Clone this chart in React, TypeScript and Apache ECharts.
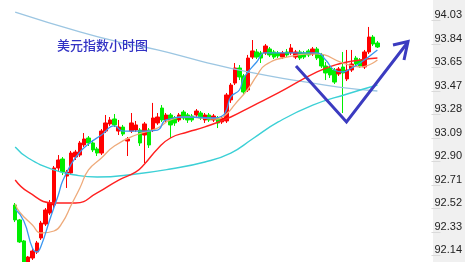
import React, { useEffect, useRef } from 'react';
import * as echarts from 'echarts';

const yLabels = ['92.14', '92.33', '92.52', '92.71', '92.90', '93.09', '93.28', '93.47', '93.65', '93.84', '94.03'];
const titleText = '美元指数小时图';

// [open, close, low, high]
const candles: number[][] = [
  [92.546, 92.426, 92.409, 92.562],
  [92.426, 92.249, 92.241, 92.434],
  [92.257, 92.088, 92.056, 92.265],
  [92.072, 92.128, 92.056, 92.136],
  [92.120, 92.176, 92.104, 92.192],
  [92.168, 92.241, 92.152, 92.257],
  [92.281, 92.401, 92.265, 92.418],
  [92.393, 92.506, 92.377, 92.522],
  [92.482, 92.562, 92.466, 92.586],
  [92.546, 92.844, 92.522, 92.860],
  [92.844, 92.908, 92.812, 92.948],
  [92.916, 92.812, 92.787, 92.932],
  [92.779, 92.812, 92.683, 92.828],
  [92.804, 92.964, 92.787, 92.981],
  [92.932, 92.972, 92.908, 92.989],
  [92.948, 93.045, 92.932, 93.061],
  [93.029, 93.077, 93.013, 93.125],
  [93.085, 93.045, 93.021, 93.101],
  [93.045, 92.989, 92.972, 93.069],
  [92.997, 92.964, 92.940, 93.013],
  [92.964, 93.141, 92.948, 93.157],
  [93.141, 93.206, 93.125, 93.270],
  [93.198, 93.230, 93.182, 93.254],
  [93.238, 93.190, 93.173, 93.278],
  [93.141, 93.173, 93.109, 93.230],
  [93.173, 93.117, 93.101, 93.190],
  [93.061, 93.077, 92.940, 93.093],
  [93.141, 93.206, 93.125, 93.286],
  [93.149, 93.190, 93.133, 93.222],
  [93.149, 93.045, 93.021, 93.165],
  [93.109, 93.198, 92.884, 93.214],
  [93.149, 93.029, 93.005, 93.165],
  [93.149, 93.246, 93.133, 93.367],
  [93.206, 93.254, 93.190, 93.286],
  [93.326, 93.230, 93.214, 93.350],
  [93.230, 93.270, 93.214, 93.286],
  [93.270, 93.190, 93.085, 93.286],
  [93.246, 93.206, 93.182, 93.262],
  [93.230, 93.270, 93.214, 93.286],
  [93.294, 93.246, 93.230, 93.310],
  [93.270, 93.230, 93.206, 93.286],
  [93.262, 93.230, 93.214, 93.278],
  [93.270, 93.302, 93.254, 93.318],
  [93.286, 93.246, 93.230, 93.302],
  [93.230, 93.270, 93.206, 93.286],
  [93.270, 93.230, 93.214, 93.286],
  [93.230, 93.262, 93.214, 93.278],
  [93.246, 93.206, 93.165, 93.262],
  [93.214, 93.246, 93.198, 93.262],
  [93.222, 93.431, 93.206, 93.447],
  [93.391, 93.511, 93.367, 93.527],
  [93.527, 93.648, 93.511, 93.688],
  [93.648, 93.576, 93.551, 93.672],
  [93.584, 93.455, 93.439, 93.600],
  [93.471, 93.728, 93.455, 93.753],
  [93.736, 93.785, 93.720, 93.873],
  [93.777, 93.736, 93.720, 93.801],
  [93.769, 93.728, 93.688, 93.785],
  [93.769, 93.825, 93.753, 93.841],
  [93.801, 93.753, 93.736, 93.817],
  [93.777, 93.736, 93.720, 93.793],
  [93.769, 93.745, 93.728, 93.785],
  [93.736, 93.769, 93.720, 93.785],
  [93.777, 93.753, 93.736, 93.801],
  [93.769, 93.809, 93.753, 93.841],
  [93.736, 93.777, 93.720, 93.793],
  [93.777, 93.728, 93.712, 93.793],
  [93.769, 93.736, 93.720, 93.785],
  [93.785, 93.753, 93.736, 93.801],
  [93.761, 93.801, 93.745, 93.817],
  [93.801, 93.728, 93.712, 93.817],
  [93.753, 93.664, 93.648, 93.769],
  [93.664, 93.608, 93.551, 93.696],
  [93.648, 93.592, 93.568, 93.664],
  [93.632, 93.535, 93.519, 93.648],
  [93.600, 93.640, 93.584, 93.656],
  [93.656, 93.608, 93.286, 93.777],
  [93.560, 93.632, 93.543, 93.793],
  [93.632, 93.680, 93.616, 93.793],
  [93.728, 93.680, 93.664, 93.745],
  [93.712, 93.664, 93.648, 93.728],
  [93.656, 93.777, 93.640, 93.793],
  [93.777, 93.897, 93.761, 93.978],
  [93.897, 93.841, 93.825, 93.913],
  [93.849, 93.817, 93.809, 93.865],
];

// moving averages: [candle index, value]
const maBlue: number[][] = [
  [0, 92.514], [2, 92.418], [4, 92.200], [5, 92.168], [6, 92.216], [8, 92.426], [10, 92.627],
  [11, 92.739], [13, 92.876], [15, 92.972], [17, 93.037], [20, 93.109], [23, 93.182], [25, 93.141],
  [28, 93.141], [30, 93.141], [33, 93.149], [35, 93.230], [40, 93.254], [46, 93.246], [48, 93.262],
  [49, 93.310], [50, 93.415], [52, 93.471], [53, 93.568], [56, 93.696], [58, 93.769], [70, 93.769],
  [72, 93.712], [74, 93.632], [76, 93.616], [78, 93.648], [80, 93.688], [84, 93.793],
];
const maOrange: number[][] = [
  [0, 92.554], [1, 92.490], [4, 92.385], [6, 92.321], [9, 92.337], [11, 92.409], [13, 92.546],
  [15, 92.683], [17, 92.828], [20, 92.924], [23, 93.021], [28, 93.109], [33, 93.165], [36, 93.230],
  [40, 93.254], [47, 93.238], [49, 93.278], [51, 93.358], [54, 93.479], [56, 93.584], [58, 93.672],
  [63, 93.736], [70, 93.761], [76, 93.688], [80, 93.656], [84, 93.712],
];
const maRed: number[][] = [
  [0, 92.747], [3, 92.651], [9, 92.562], [14, 92.562], [19, 92.643], [24, 92.747], [28, 92.812],
  [30, 92.876], [33, 92.997], [36, 93.085], [40, 93.133], [44, 93.174], [50, 93.254], [55, 93.342],
  [61, 93.447], [70, 93.616], [75, 93.680], [80, 93.712], [84, 93.728],
];
const maCyan: number[][] = [
  [0, 93.013], [3, 92.924], [9, 92.828], [14, 92.787], [19, 92.771], [28, 92.796], [36, 92.836],
  [44, 92.892], [50, 92.964], [55, 93.077], [61, 93.214], [69, 93.350], [77, 93.439], [84, 93.511],
];
const maLight: number[][] = [
  [0, 94.098], [15, 93.938], [24, 93.857], [33, 93.793], [43, 93.704], [54, 93.616], [66, 93.543],
  [75, 93.495], [84, 93.463],
];

const PITCH = 4.33;
const FIRST_X = 15.2;
const AXIS_X = 433;

export default function App() {
  const ref = useRef<HTMLDivElement>(null);
  useEffect(() => {
    const chart = echarts.init(ref.current!, null, { renderer: 'svg' });
    const n = candles.length;
    const gridLeft = FIRST_X - PITCH / 2;
    const gridRightEdge = gridLeft + n * PITCH;
    const cats = candles.map((_, i) => String(i));
    const line = (data: number[][], color: string, width: number) => ({
      type: 'line',
      data,
      smooth: true,
      showSymbol: false,
      clip: false,
      silent: true,
      lineStyle: { color, width },
      z: 3,
    });
    chart.setOption({
      animation: false,
      grid: { left: gridLeft, right: 465 - gridRightEdge, top: 20.5, bottom: 6.5 },
      xAxis: {
        type: 'category',
        data: cats,
        show: false,
        boundaryGap: true,
      },
      yAxis: [
        { type: 'value', min: 92.14, max: 94.03, show: false, splitLine: { show: false } },
        {
          type: 'value',
          position: 'right',
          offset: AXIS_X - gridRightEdge,
          min: 0,
          max: 10,
          interval: 1,
          splitLine: { show: false },
          axisLine: { show: false },
          axisTick: { show: true, length: 9, lineStyle: { color: '#dadada', width: 1 } },
          axisLabel: {
            margin: 3,
            verticalAlign: 'bottom',
            padding: [0, 0, 1, 0],
            color: '#222',
            fontSize: 11,
            fontFamily: 'Liberation Sans',
            formatter: (v: number) => yLabels[Math.round(v)] ?? '',
          },
        },
      ],
      graphic: [
        { type: 'rect', z: -10, shape: { x: AXIS_X, y: 0, width: 465 - AXIS_X, height: 262 }, style: { fill: '#f0f0f0' } },
        {
          type: 'text',
          x: 57,
          y: 44,
          style: { text: titleText, fill: '#3232c4', font: '500 13px "Noto Sans CJK SC"', verticalAlign: 'middle' },
          z: 10,
        },
        {
          type: 'polyline',
          z: 10,
          shape: { points: [[296, 66], [346.5, 122], [408, 42]] },
          style: { stroke: '#3b3bc0', lineWidth: 3, fill: 'none' },
        },
        {
          type: 'polyline',
          z: 10,
          shape: { points: [[393, 45], [408, 41.5], [404, 60]] },
          style: { stroke: '#3b3bc0', lineWidth: 3, fill: 'none' },
        },
      ],
      series: [
        {
          type: 'candlestick',
          data: candles,
          barWidth: 4,
          clip: false,
          silent: true,
          itemStyle: {
            color: '#ff0000',
            color0: '#00ee00',
            borderColor: '#ff0000',
            borderColor0: '#00ee00',
            borderWidth: 1,
          },
        },
        line(maLight, '#9cc6e2', 1.3),
        line(maCyan, '#3cd0d6', 1.4),
        line(maRed, '#ff2020', 1.4),
        line(maOrange, '#eeaa7a', 1.3),
        line(maBlue, '#3a96f0', 1.3),
      ],
    });
    return () => chart.dispose();
  }, []);
  return <div ref={ref} style={{ position: 'fixed', left: 0, top: 0, width: 465, height: 262 }} />;
}
